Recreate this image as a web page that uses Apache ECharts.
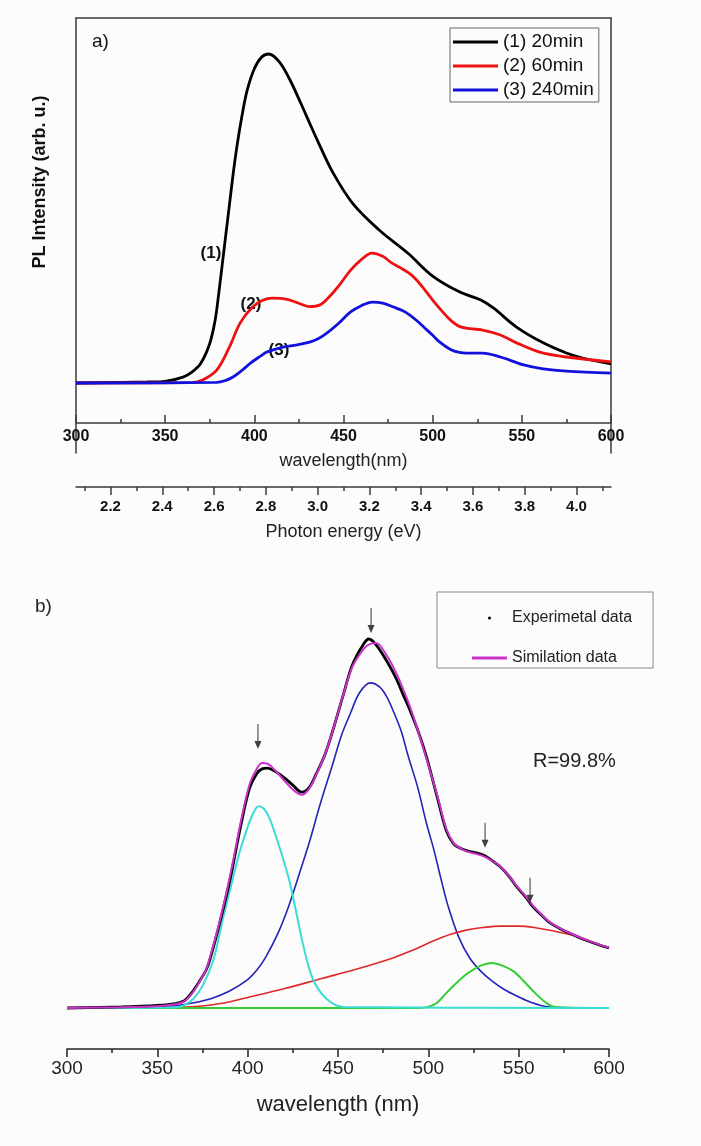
<!DOCTYPE html>
<html>
<head>
<meta charset="utf-8">
<script src="https://cdn.jsdelivr.net/npm/echarts@6/dist/echarts.min.js"></script>
<style>
  html, body { margin: 0; padding: 0; background: #fcfcfc; }
  #chart { width: 701px; height: 1146px; }
</style>
</head>
<body>
<div id="chart"></div>
<script>
// ---- panel a) PL spectra ----
const energyTicks = [2.2, 2.4, 2.6, 2.8, 3.0, 3.2, 3.4, 3.6, 3.8, 4.0]
const energyMinor = [2.1, 2.3, 2.5, 2.7, 2.9, 3.1, 3.3, 3.5, 3.7, 3.9, 4.1]

const wl20 = [300, 340, 350, 360, 365, 370, 375, 378, 380, 382, 384, 386, 388, 390, 393, 396, 400, 404, 408, 414, 420, 426, 431, 436, 444, 455, 470, 486, 500, 515, 527, 534, 547, 562, 575, 584, 600]
const pl20 = [0, 0.003, 0.005, 0.018, 0.033, 0.06, 0.12, 0.19, 0.27, 0.36, 0.45, 0.54, 0.63, 0.71, 0.81, 0.89, 0.955, 0.99, 1.0, 0.976, 0.921, 0.851, 0.79, 0.73, 0.64, 0.547, 0.465, 0.395, 0.325, 0.277, 0.252, 0.228, 0.170, 0.122, 0.091, 0.076, 0.058]

const wl60 = [300, 365, 371, 379, 386, 392, 399, 405, 410, 415, 420, 426, 431, 437, 442, 448, 454, 460, 466, 472, 477, 482, 487, 491, 496, 500, 505, 510, 515, 521, 528, 538, 547, 560, 575, 600]
const pl60 = [0, 0.001, 0.009, 0.04, 0.109, 0.182, 0.231, 0.252, 0.258, 0.257, 0.252, 0.24, 0.232, 0.238, 0.262, 0.30, 0.343, 0.375, 0.395, 0.385, 0.365, 0.35, 0.333, 0.313, 0.28, 0.252, 0.22, 0.191, 0.172, 0.165, 0.161, 0.146, 0.122, 0.094, 0.079, 0.064]

const wl240 = [300, 379, 384, 388, 393, 398, 403, 407, 412, 416, 424, 431, 436, 441, 447, 454, 460, 466, 472, 478, 483, 487, 491, 495, 500, 504, 510, 515, 519, 528, 538, 551, 562, 575, 600]
const pl240 = [0, 0.002, 0.008, 0.018, 0.038, 0.061, 0.08, 0.094, 0.103, 0.109, 0.116, 0.124, 0.135, 0.153, 0.18, 0.216, 0.235, 0.246, 0.243, 0.231, 0.22, 0.207, 0.19, 0.17, 0.145, 0.124, 0.102, 0.093, 0.091, 0.091, 0.079, 0.055, 0.043, 0.036, 0.030]

// ---- panel b) gaussian fit ----
const wlExp = [300, 330, 350, 360, 365, 369, 373, 377, 379, 384, 389, 392, 396, 401, 405, 408, 411, 415, 420, 425, 430, 434, 438, 443, 447, 453, 458, 464, 467, 471, 477, 482, 486, 490, 494, 499, 505, 510, 514, 518, 522, 527, 531, 536, 540, 545, 549, 554, 558, 563, 567, 573, 578, 584, 590, 595, 600]
const expData = [0, 0.003, 0.007, 0.012, 0.02, 0.041, 0.07, 0.103, 0.13, 0.22, 0.32, 0.39, 0.49, 0.595, 0.635, 0.648, 0.65, 0.642, 0.625, 0.604, 0.585, 0.597, 0.635, 0.69, 0.75, 0.85, 0.93, 0.985, 1.0, 0.985, 0.94, 0.895, 0.85, 0.805, 0.755, 0.68, 0.57, 0.48, 0.445, 0.432, 0.425, 0.42, 0.413, 0.397, 0.382, 0.355, 0.328, 0.30, 0.274, 0.25, 0.232, 0.215, 0.203, 0.19, 0.179, 0.17, 0.163]
const simData = [0, 0.002, 0.005, 0.01, 0.018, 0.038, 0.068, 0.105, 0.135, 0.225, 0.33, 0.4, 0.5, 0.605, 0.648, 0.664, 0.662, 0.645, 0.618, 0.592, 0.578, 0.594, 0.633, 0.69, 0.75, 0.85, 0.925, 0.972, 0.985, 0.989, 0.955, 0.91, 0.865, 0.815, 0.755, 0.675, 0.575, 0.485, 0.447, 0.432, 0.423, 0.417, 0.41, 0.397, 0.383, 0.356, 0.33, 0.302, 0.277, 0.252, 0.233, 0.216, 0.204, 0.191, 0.18, 0.171, 0.164]

const wlCyan = [300, 360, 365, 370, 375, 381, 386, 392, 396, 400, 403, 406, 409, 412, 416, 422, 426, 431, 436, 443, 453, 600]
const cyanData = [0, 0.002, 0.008, 0.025, 0.06, 0.13, 0.235, 0.355, 0.43, 0.49, 0.527, 0.547, 0.54, 0.515, 0.46, 0.365, 0.28, 0.165, 0.08, 0.028, 0.003, 0]

const wlBlue = [300, 350, 360, 370, 380, 390, 400, 405, 410, 417, 423, 429, 434, 440, 447, 452, 457, 462, 468, 473, 477, 481, 485, 489, 494, 499, 503, 507, 511, 517, 523, 529, 535, 542, 550, 557, 565, 580, 600]
const blueData = [0, 0.002, 0.006, 0.014, 0.026, 0.046, 0.077, 0.102, 0.138, 0.205, 0.28, 0.37, 0.447, 0.55, 0.66, 0.74, 0.8, 0.855, 0.881, 0.87, 0.843, 0.80, 0.75, 0.68, 0.6, 0.5, 0.43, 0.35, 0.275, 0.19, 0.135, 0.1, 0.074, 0.05, 0.03, 0.015, 0.004, 0, 0]

const wlRed = [300, 350, 369, 385, 401, 420, 441, 460, 480, 492, 503, 512, 521, 530, 540, 550, 560, 570, 580, 590, 600]
const redData = [0, 0, 0.003, 0.012, 0.03, 0.052, 0.08, 0.105, 0.135, 0.158, 0.182, 0.199, 0.211, 0.218, 0.222, 0.222, 0.217, 0.208, 0.197, 0.18, 0.163]

const wlGreen = [300, 495, 500, 505, 510, 516, 522, 529, 535, 541, 547, 553, 559, 565, 570, 600]
const greenData = [0, 0, 0.003, 0.015, 0.041, 0.07, 0.095, 0.115, 0.122, 0.115, 0.1, 0.072, 0.041, 0.015, 0.003, 0]

// peak markers (arrow tip positions)
const arrowWl = [405.7, 468.3, 531.4, 556.3]
const arrowVal = [0.702, 1.016, 0.434, 0.285]

const pairs = (xs, ys) => xs.map((x, i) => [x, ys[i]])

const font = "'Liberation Sans', Arial, sans-serif"
const frameColor = '#3a3a3a'

const chart = echarts.init(document.getElementById('chart'))

function curve(name, xs, ys, color, width, grid) {
  return {
    name: name,
    type: 'line',
    xAxisIndex: grid === 0 ? 0 : 4,
    yAxisIndex: grid === 0 ? 0 : 2,
    data: pairs(xs, ys),
    smooth: 0.35,
    showSymbol: false,
    silent: true,
    lineStyle: { color: color, width: width },
    itemStyle: { color: color }
  }
}

chart.setOption({
  backgroundColor: '#fcfcfc',
  animation: false,
  textStyle: { fontFamily: font, color: '#111' },
  grid: [
    { left: 76, right: 90, top: 18, bottom: 693 },
    { left: 67, right: 92, top: 580, bottom: 97 }
  ],
  xAxis: [
    {
      gridIndex: 0, type: 'value', position: 'bottom', offset: -30,
      min: 300, max: 600, interval: 50,
      name: 'wavelength(nm)', nameLocation: 'middle', nameGap: 29,
      nameTextStyle: { fontSize: 18, color: '#222' },
      axisLine: { onZero: false, lineStyle: { color: frameColor, width: 1.5 } },
      axisTick: { inside: true, length: 8, lineStyle: { color: frameColor, width: 1.5 } },
      minorTick: { show: true, splitNumber: 2, length: 4, lineStyle: { color: frameColor, width: 1.5 } },
      axisLabel: { fontSize: 16, fontWeight: 'bold', margin: 6, color: '#111' },
      splitLine: { show: false }
    },
    {
      gridIndex: 0, type: 'value', position: 'top', min: 300, max: 600,
      axisLine: { onZero: false, lineStyle: { color: frameColor, width: 1.5 } },
      axisTick: { show: false }, axisLabel: { show: false }, splitLine: { show: false }
    },
    {
      gridIndex: 0, type: 'value', position: 'bottom', offset: 34,
      min: 2.0667, max: 4.1333,
      name: 'Photon energy (eV)', nameLocation: 'middle', nameGap: 36,
      nameTextStyle: { fontSize: 18, color: '#222' },
      axisLine: { onZero: false, lineStyle: { color: frameColor, width: 1.5 } },
      axisTick: { length: 8, customValues: energyTicks, lineStyle: { color: frameColor, width: 1.5 } },
      axisLabel: {
        fontSize: 15, fontWeight: 'bold', margin: 12, color: '#111',
        customValues: energyTicks,
        formatter: v => v.toFixed(1)
      },
      splitLine: { show: false }
    },
    {
      gridIndex: 0, type: 'value', position: 'bottom', offset: 34,
      min: 2.0667, max: 4.1333,
      axisLine: { show: false, onZero: false },
      axisTick: { length: 4, customValues: energyMinor, lineStyle: { color: frameColor, width: 1.5 } },
      axisLabel: { show: false }, splitLine: { show: false }
    },
    {
      gridIndex: 1, type: 'value', position: 'bottom',
      min: 300, max: 600, interval: 50,
      name: 'wavelength (nm)', nameLocation: 'middle', nameGap: 45,
      nameTextStyle: { fontSize: 22, color: '#222' },
      axisLine: { onZero: false, lineStyle: { color: '#222', width: 1.5 } },
      axisTick: { length: 8, lineStyle: { color: '#222', width: 1.5 } },
      minorTick: { show: true, splitNumber: 2, length: 4, lineStyle: { color: '#222', width: 1.5 } },
      axisLabel: { fontSize: 19, margin: 10, color: '#222' },
      splitLine: { show: false }
    }
  ],
  yAxis: [
    {
      gridIndex: 0, type: 'value', position: 'left', min: -0.2128, max: 1.1094,
      axisLine: { show: true, onZero: false, lineStyle: { color: frameColor, width: 1.5 } },
      axisTick: { show: false }, axisLabel: { show: false }, splitLine: { show: false }
    },
    {
      gridIndex: 0, type: 'value', position: 'right', min: -0.2128, max: 1.1094,
      axisLine: { show: true, onZero: false, lineStyle: { color: frameColor, width: 1.5 } },
      axisTick: { show: false }, axisLabel: { show: false }, splitLine: { show: false }
    },
    {
      gridIndex: 1, type: 'value', show: false, min: -0.1111, max: 1.1599
    }
  ],
  legend: [
    {
      data: [
        { name: '(1) 20min', icon: 'rect' },
        { name: '(2) 60min', icon: 'rect' },
        { name: '(3) 240min', icon: 'rect' }
      ],
      orient: 'vertical', left: 450, top: 28,
      padding: [4, 5, 2, 3], itemGap: 4, itemWidth: 45, itemHeight: 3, itemTextGap: 6,
      borderColor: '#666', borderWidth: 1, borderRadius: 0,
      selectedMode: false,
      textStyle: { fontSize: 19, lineHeight: 20, color: '#111' }
    },
    {
      data: [
        { name: 'Experimetal data', icon: 'circle' },
        { name: 'Similation data', icon: 'rect' }
      ],
      orient: 'vertical', left: 437, top: 592,
      padding: [17, 21, 1, 35], itemGap: 22, itemWidth: 35, itemHeight: 3, itemTextGap: 6,
      borderColor: '#888', borderWidth: 1, borderRadius: 0,
      selectedMode: false,
      textStyle: { fontSize: 16, lineHeight: 18, color: '#222' }
    }
  ],
  graphic: [
    { type: 'text', x: 92, y: 42, style: { text: 'a)', font: '19px ' + font, fill: '#111', textVerticalAlign: 'middle' } },
    { type: 'text', x: 40, y: 182, rotation: Math.PI / 2, style: { text: 'PL Intensity (arb. u.)', font: 'bold 18px ' + font, fill: '#111', textAlign: 'center', textVerticalAlign: 'middle' } },
    { type: 'text', x: 211, y: 253, style: { text: '(1)', font: 'bold 17px ' + font, fill: '#111', textAlign: 'center', textVerticalAlign: 'middle' } },
    { type: 'text', x: 251, y: 304, style: { text: '(2)', font: 'bold 17px ' + font, fill: '#111', textAlign: 'center', textVerticalAlign: 'middle' } },
    { type: 'text', x: 279, y: 350, style: { text: '(3)', font: 'bold 17px ' + font, fill: '#111', textAlign: 'center', textVerticalAlign: 'middle' } },
    { type: 'text', x: 35, y: 607, style: { text: 'b)', font: '19px ' + font, fill: '#222', textVerticalAlign: 'middle' } },
    { type: 'text', x: 533, y: 761, style: { text: 'R=99.8%', font: '20px ' + font, fill: '#222', textVerticalAlign: 'middle' } }
  ],
  series: [
    curve('(1) 20min', wl20, pl20, '#000000', 2.8, 0),
    curve('(2) 60min', wl60, pl60, '#ee1111', 2.8, 0),
    curve('(3) 240min', wl240, pl240, '#1111dd', 2.8, 0),
    curve('Blue peak', wlBlue, blueData, '#2323b8', 1.6, 1),
    curve('Red peak', wlRed, redData, '#e02828', 1.6, 1),
    curve('Green peak', wlGreen, greenData, '#33cc33', 2, 1),
    curve('Cyan peak', wlCyan, cyanData, '#3adcd4', 2, 1),
    curve('Experimetal data', wlExp, expData, '#000000', 2.8, 1),
    curve('Similation data', wlExp, simData, '#cc33cc', 2, 1),
    {
      name: 'peaks', type: 'scatter', xAxisIndex: 4, yAxisIndex: 2,
      data: pairs(arrowWl, arrowVal),
      symbol: 'path://M3.4,0 L4.6,0 L4.6,17 L8,17 L4,25 L0,17 L3.4,17 Z',
      symbolSize: [7, 25], symbolOffset: [0, '-50%'],
      itemStyle: { color: '#111' }, silent: true, z: 5
    }
  ]
})
</script>
</body>
</html>
